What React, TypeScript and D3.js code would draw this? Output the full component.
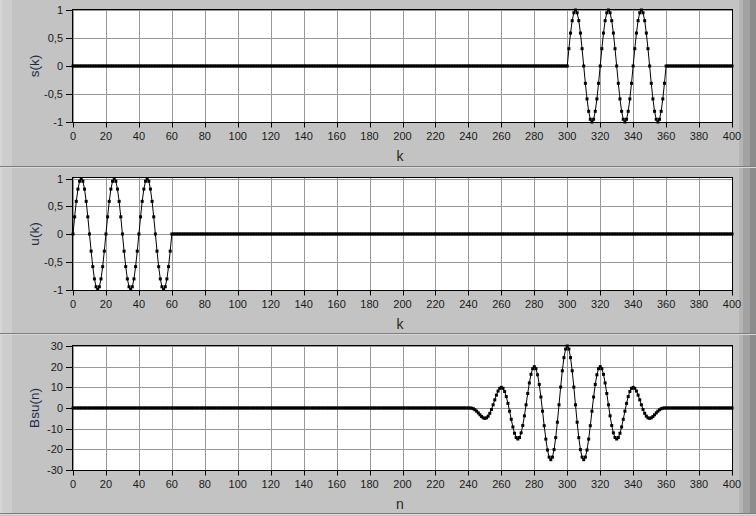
import React from "react";
import * as d3 from "d3";

// u(k): nonzero segment for k = 0..60
const uSegmentStart = 0;
const uSegment = [
  0, 0.309, 0.588, 0.809, 0.951, 1, 0.951, 0.809, 0.588, 0.309,
  0, -0.309, -0.588, -0.809, -0.951, -1, -0.951, -0.809, -0.588, -0.309,
  0, 0.309, 0.588, 0.809, 0.951, 1, 0.951, 0.809, 0.588, 0.309,
  0, -0.309, -0.588, -0.809, -0.951, -1, -0.951, -0.809, -0.588, -0.309,
  0, 0.309, 0.588, 0.809, 0.951, 1, 0.951, 0.809, 0.588, 0.309,
  0, -0.309, -0.588, -0.809, -0.951, -1, -0.951, -0.809, -0.588, -0.309,
  0,
];

// s(k): nonzero segment for k = 300..360
const sSegmentStart = 300;
const sSegment = [
  0, 0.309, 0.588, 0.809, 0.951, 1, 0.951, 0.809, 0.588, 0.309,
  0, -0.309, -0.588, -0.809, -0.951, -1, -0.951, -0.809, -0.588, -0.309,
  0, 0.309, 0.588, 0.809, 0.951, 1, 0.951, 0.809, 0.588, 0.309,
  0, -0.309, -0.588, -0.809, -0.951, -1, -0.951, -0.809, -0.588, -0.309,
  0, 0.309, 0.588, 0.809, 0.951, 1, 0.951, 0.809, 0.588, 0.309,
  0, -0.309, -0.588, -0.809, -0.951, -1, -0.951, -0.809, -0.588, -0.309,
  0,
];

// Bsu(n): nonzero segment for n = 240..360
const bSegmentStart = 240;
const bSegment = [
  0, 0, -0.1, -0.36, -0.85, -1.54, -2.39, -3.3, -4.14, -4.76,
  -5, -4.76, -3.95, -2.58, -0.7, 1.54, 3.94, 6.24, 8.19, 9.51,
  10, 9.51, 7.99, 5.52, 2.24, -1.54, -5.48, -9.18, -12.23, -14.27,
  -15, -14.27, -12.04, -8.46, -3.79, 1.54, 7.03, 12.12, 16.28, 19.02,
  20, 19.02, 16.08, 11.4, 5.33, -1.54, -8.57, -15.06, -20.32, -23.77,
  -25, -23.77, -20.13, -14.34, -6.88, 1.54, 10.12, 18.0, 24.37, 28.53,
  30,
  28.53, 24.37, 18.0, 10.12, 1.54, -6.88, -14.34, -20.13, -23.77, -25,
  -23.77, -20.32, -15.06, -8.57, -1.54, 5.33, 11.4, 16.08, 19.02, 20,
  19.02, 16.28, 12.12, 7.03, 1.54, -3.79, -8.46, -12.04, -14.27, -15,
  -14.27, -12.23, -9.18, -5.48, -1.54, 2.24, 5.52, 7.99, 9.51, 10,
  9.51, 8.19, 6.24, 3.94, 1.54, -0.7, -2.58, -3.95, -4.76, -5,
  -4.76, -4.14, -3.3, -2.39, -1.54, -0.85, -0.36, -0.1, 0, 0,
];

const xTicks = [0, 20, 40, 60, 80, 100, 120, 140, 160, 180, 200, 220, 240, 260, 280, 300, 320, 340, 360, 380, 400];
const unitTicks = [-1, -0.5, 0, 0.5, 1];
const unitTickLabels = ["-1", "-0,5", "0", "0,5", "1"];
const bsuTicks = [-30, -20, -10, 0, 10, 20, 30];
const bsuTickLabels = ["-30", "-20", "-10", "0", "10", "20", "30"];

const W = 756;
const H = 516;
const N = 401;

function fullSeries(start: number, seg: number[]) {
  return d3.range(0, N).map((k) => {
    const i = k - start;
    return { x: k, y: i >= 0 && i < seg.length ? seg[i] : 0 };
  });
}

const panels = [
  {
    top: 0, bottom: 166, plotTop: 10, plotBottom: 122,
    domain: [-1, 1], ticks: unitTicks, tickLabels: unitTickLabels,
    yTitle: "s(k)", xTitle: "k", data: fullSeries(sSegmentStart, sSegment),
  },
  {
    top: 168, bottom: 333, plotTop: 178.5, plotBottom: 289.5,
    domain: [-1, 1], ticks: unitTicks, tickLabels: unitTickLabels,
    yTitle: "u(k)", xTitle: "k", data: fullSeries(uSegmentStart, uSegment),
  },
  {
    top: 335, bottom: 513, plotTop: 346, plotBottom: 470,
    domain: [-30, 30], ticks: bsuTicks, tickLabels: bsuTickLabels,
    yTitle: "Bsu(n)", xTitle: "n", data: fullSeries(bSegmentStart, bSegment),
  },
];

const xScale = d3.scaleLinear().domain([0, 400]).range([73, 732]);
const FONT = "'Liberation Sans', Arial, sans-serif";

function Panel({ p }: { p: (typeof panels)[number] }) {
  const y = d3.scaleLinear().domain(p.domain).range([p.plotBottom, p.plotTop]);
  const line = d3
    .line<{ x: number; y: number }>()
    .x((d) => xScale(d.x))
    .y((d) => y(d.y));
  const left = 72.5;
  const right = 732.5;
  const top = Math.floor(p.plotTop) - 0.5;
  const bot = Math.ceil(p.plotBottom) + 0.5;
  const midY = (p.plotTop + p.plotBottom) / 2;
  return (
    <g>
      {/* panel background */}
      <rect x={0} y={p.top} width={W} height={p.bottom - p.top} fill="#c3c3c3" />
      <rect x={0} y={p.top} width={12} height={p.bottom - p.top} fill="#cdcdcd" />
      <rect x={0} y={p.top} width={2} height={p.bottom - p.top} fill="#d6d6d6" />
      <rect x={739} y={p.top} width={4} height={p.bottom - p.top} fill="#b4b4b4" />
      <rect x={743} y={p.top} width={7} height={p.bottom - p.top} fill="#a2a2a2" />
      <rect x={750} y={p.top} width={6} height={p.bottom - p.top} fill="#8c8c8c" />
      <line x1={0} x2={W} y1={p.bottom + 0.5} y2={p.bottom + 0.5} stroke="#7c7c7c" />
      <line x1={0} x2={W} y1={p.bottom + 1.5} y2={p.bottom + 1.5} stroke="#dadada" />
      {/* plot area */}
      <rect x={left} y={top} width={right - left} height={bot - top} fill="#ffffff" />
      {xTicks.map((t) => (
        <line key={"gx" + t} x1={Math.round(xScale(t)) + 0.5} x2={Math.round(xScale(t)) + 0.5}
          y1={top} y2={bot} stroke="#999999" strokeWidth={1} />
      ))}
      {p.ticks.map((t) => (
        <line key={"gy" + t} x1={left} x2={right} y1={Math.round(y(t)) + 0.5} y2={Math.round(y(t)) + 0.5}
          stroke="#999999" strokeWidth={1} />
      ))}
      <rect x={left} y={top} width={right - left} height={bot - top} fill="none" stroke="#000" strokeWidth={1} />
      {/* x ticks and labels */}
      {xTicks.map((t) => (
        <g key={"tx" + t}>
          <line x1={Math.round(xScale(t)) + 0.5} x2={Math.round(xScale(t)) + 0.5} y1={bot} y2={bot + 5} stroke="#000" />
          <text x={xScale(t)} y={bot + 17.5} textAnchor="middle" fontFamily={FONT} fontSize={11} fill="#1a1a1a">
            {t}
          </text>
        </g>
      ))}
      {/* y ticks and labels */}
      {p.ticks.map((t, i) => (
        <g key={"ty" + t}>
          <line x1={66} x2={left} y1={Math.round(y(t)) + 0.5} y2={Math.round(y(t)) + 0.5} stroke="#000" />
          <text x={63} y={y(t) + 4} textAnchor="end" fontFamily={FONT} fontSize={11} fill="#1a1a1a">
            {p.tickLabels[i]}
          </text>
        </g>
      ))}
      {/* titles */}
      <text x={400} y={bot + 38} textAnchor="middle" fontFamily={FONT} fontSize={14} fill="#2a2420">
        {p.xTitle}
      </text>
      <text transform={`translate(39,${midY}) rotate(-90)`} textAnchor="middle" fontFamily={FONT} fontSize={13.5} fill="#1e2a4c">
        {p.yTitle}
      </text>
      {/* data */}
      <path d={line(p.data) || ""} fill="none" stroke="#000" strokeWidth={1} />
      {p.data.map((d) => (
        <rect key={"m" + d.x} x={xScale(d.x) - 1.5} y={y(d.y) - 1.5} width={3} height={3} fill="#000" />
      ))}
    </g>
  );
}

export default function App() {
  return (
    <svg width={W} height={H} style={{ position: "absolute", left: 0, top: 0, display: "block" }}>
      <rect x={0} y={0} width={W} height={H} fill="#c6c6c6" />
      {panels.map((p, i) => (
        <Panel key={i} p={p} />
      ))}
    </svg>
  );
}
